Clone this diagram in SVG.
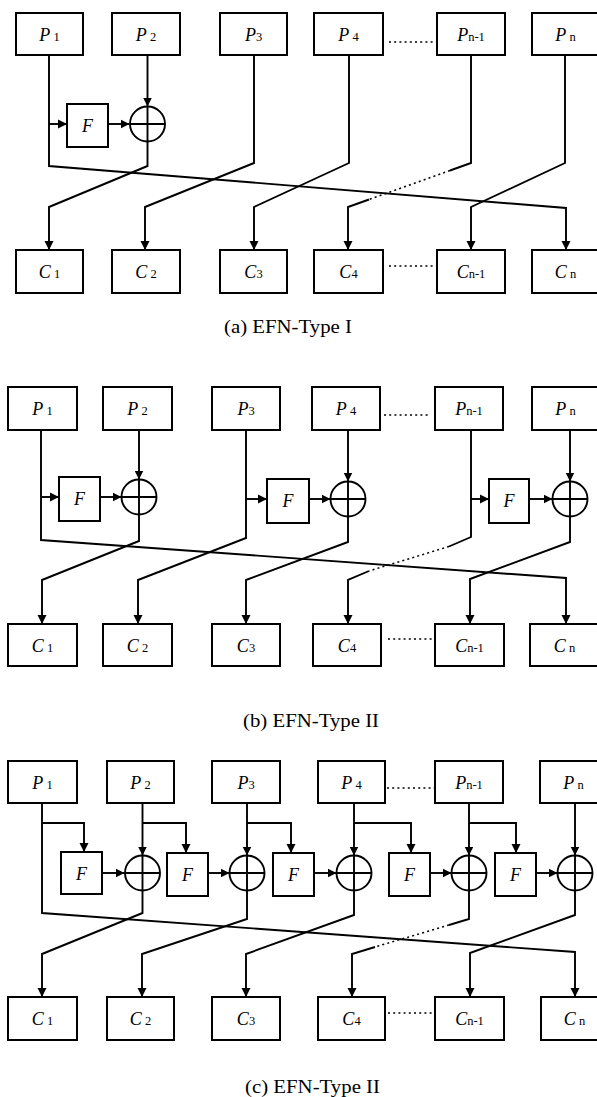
<svg xmlns="http://www.w3.org/2000/svg" width="597" height="1097" viewBox="0 0 597 1097">
<style>
.box{fill:#fff;stroke:#000;stroke-width:2}
.xor{fill:none;stroke:#000;stroke-width:1.9}
.ln{fill:none;stroke:#000;stroke-width:1.9}
.arr{fill:none;stroke:#000;stroke-width:1.9;marker-end:url(#ah)}
.dot{fill:none;stroke:#000;stroke-width:1.5;stroke-dasharray:2 3.2}
text{font-family:"Liberation Serif","Times New Roman",serif;fill:#000}
.lbl{font-size:18px;text-anchor:middle}
.it{font-style:italic}
.sub{font-size:12.5px}
.cap{font-size:19px}
</style>
<defs>
<marker id="ah" viewBox="0 0 10 10" refX="9" refY="5" markerWidth="10" markerHeight="10" markerUnits="userSpaceOnUse" orient="auto">
<path d="M0,0.5 L9,5 L0,9.5 z" fill="#000"/>
</marker>
</defs>

<!-- ===== Panel (a) ===== -->
<g id="connectors-a">
<path class="arr" d="M49,55 V166 L566,208 V250"/>
<path class="arr" d="M49,124 H67"/>
<path class="arr" d="M108,124 H129.5"/>
<path class="arr" d="M147.5,55 V106.5"/>
<path class="arr" d="M147.5,141.5 V166 L49,207 V250"/>
<path class="arr" d="M254,55 V163 L145,207 V250"/>
<path class="arr" d="M349,55 V163 L254,207 V250"/>
<path class="ln" d="M471,55 V163 L450,170.5"/>
<path class="dot" d="M450,170.5 L369,199.5"/>
<path class="arr" d="M369,199.5 L348,207 V250"/>
<path class="arr" d="M565,55 V163 L471,207 V250"/>
<path class="dot" d="M389,42 H435"/>
<path class="dot" d="M389,266 H435"/>
</g>
<g id="a-P1"><rect class="box" x="16" y="13" width="67" height="42"/><text class="lbl" x="49.5" y="41"><tspan class="it">P</tspan><tspan class="sub"> 1</tspan></text></g>
<g id="a-P2"><rect class="box" x="112" y="13" width="68" height="42"/><text class="lbl" x="146" y="41"><tspan class="it">P</tspan><tspan class="sub"> 2</tspan></text></g>
<g id="a-P3"><rect class="box" x="220" y="13" width="67" height="42"/><text class="lbl" x="253.5" y="41"><tspan class="it">P</tspan><tspan class="sub">3</tspan></text></g>
<g id="a-P4"><rect class="box" x="314" y="13" width="69" height="42"/><text class="lbl" x="348.5" y="41"><tspan class="it">P</tspan><tspan class="sub"> 4</tspan></text></g>
<g id="a-Pn-1"><rect class="box" x="437" y="13" width="68" height="42"/><text class="lbl" x="471" y="41"><tspan class="it">P</tspan><tspan class="sub">n-1</tspan></text></g>
<g id="a-Pn"><rect class="box" x="532" y="13" width="67" height="42"/><text class="lbl" x="565.5" y="41"><tspan class="it">P</tspan><tspan class="sub"> n</tspan></text></g>
<g id="a-F"><rect class="box" x="67" y="104" width="41" height="43"/><text class="lbl it" x="87.5" y="132">F</text></g>
<g id="a-X"><circle class="xor" cx="147.5" cy="124" r="17.5"/><path class="xor" d="M130,124 H165 M147.5,106.5 V141.5"/></g>
<g id="a-C1"><rect class="box" x="16" y="250" width="67" height="43"/><text class="lbl" x="49.5" y="278"><tspan class="it">C</tspan><tspan class="sub"> 1</tspan></text></g>
<g id="a-C2"><rect class="box" x="112" y="250" width="68" height="43"/><text class="lbl" x="146" y="278"><tspan class="it">C</tspan><tspan class="sub"> 2</tspan></text></g>
<g id="a-C3"><rect class="box" x="220" y="250" width="67" height="43"/><text class="lbl" x="253.5" y="278"><tspan class="it">C</tspan><tspan class="sub">3</tspan></text></g>
<g id="a-C4"><rect class="box" x="314" y="250" width="69" height="43"/><text class="lbl" x="348.5" y="278"><tspan class="it">C</tspan><tspan class="sub">4</tspan></text></g>
<g id="a-Cn-1"><rect class="box" x="437" y="250" width="68" height="43"/><text class="lbl" x="471" y="278"><tspan class="it">C</tspan><tspan class="sub">n-1</tspan></text></g>
<g id="a-Cn"><rect class="box" x="532" y="250" width="67" height="43"/><text class="lbl" x="565.5" y="278"><tspan class="it">C</tspan><tspan class="sub"> n</tspan></text></g>
<text class="cap" x="224" y="333" textLength="128" lengthAdjust="spacingAndGlyphs">(a) EFN-Type I</text>

<!-- ===== Panel (b) ===== -->
<g id="connectors-b">
<path class="arr" d="M41,430 V540 L566,578 V624"/>
<path class="arr" d="M41,497 H59"/>
<path class="arr" d="M100,497 H121.5"/>
<path class="arr" d="M139,430 V479.5"/>
<path class="arr" d="M139,514.5 V541 L42,580 V624"/>
<path class="arr" d="M246,430 V538 L138,580 V624"/>
<path class="arr" d="M246,499 H267"/>
<path class="arr" d="M309,499 H330.5"/>
<path class="arr" d="M348,430 V481.5"/>
<path class="arr" d="M348,516.5 V542 L246,580 V624"/>
<path class="ln" d="M471,430 V537 L449,546.5"/>
<path class="dot" d="M449,546.5 L369,571"/>
<path class="arr" d="M369,571 L348,580 V624"/>
<path class="arr" d="M471,499 H489"/>
<path class="arr" d="M529,499 H552.5"/>
<path class="arr" d="M570,430 V481.5"/>
<path class="arr" d="M570,516.5 V542 L470,579 V624"/>
<path class="dot" d="M384,415 H430"/>
<path class="dot" d="M388,639 H433"/>
</g>
<g id="b-P1"><rect class="box" x="8" y="387" width="69" height="43"/><text class="lbl" x="42.5" y="415"><tspan class="it">P</tspan><tspan class="sub"> 1</tspan></text></g>
<g id="b-P2"><rect class="box" x="103" y="387" width="69" height="43"/><text class="lbl" x="137.5" y="415"><tspan class="it">P</tspan><tspan class="sub"> 2</tspan></text></g>
<g id="b-P3"><rect class="box" x="212" y="387" width="68" height="43"/><text class="lbl" x="246" y="415"><tspan class="it">P</tspan><tspan class="sub">3</tspan></text></g>
<g id="b-P4"><rect class="box" x="312" y="387" width="68" height="43"/><text class="lbl" x="346" y="415"><tspan class="it">P</tspan><tspan class="sub"> 4</tspan></text></g>
<g id="b-Pn-1"><rect class="box" x="435" y="387" width="68" height="43"/><text class="lbl" x="469" y="415"><tspan class="it">P</tspan><tspan class="sub">n-1</tspan></text></g>
<g id="b-Pn"><rect class="box" x="532" y="387" width="67" height="43"/><text class="lbl" x="565.5" y="415"><tspan class="it">P</tspan><tspan class="sub"> n</tspan></text></g>
<g id="b-F1"><rect class="box" x="59" y="477" width="41" height="44"/><text class="lbl it" x="79.5" y="505">F</text></g>
<g id="b-X1"><circle class="xor" cx="139" cy="497" r="17.5"/><path class="xor" d="M121.5,497 H156.5 M139,479.5 V514.5"/></g>
<g id="b-F2"><rect class="box" x="267" y="479" width="42" height="44"/><text class="lbl it" x="288" y="507">F</text></g>
<g id="b-X2"><circle class="xor" cx="348" cy="499" r="17.5"/><path class="xor" d="M330.5,499 H365.5 M348,481.5 V516.5"/></g>
<g id="b-F3"><rect class="box" x="489" y="479" width="40" height="44"/><text class="lbl it" x="509" y="507">F</text></g>
<g id="b-X3"><circle class="xor" cx="570" cy="499" r="17.5"/><path class="xor" d="M552.5,499 H587.5 M570,481.5 V516.5"/></g>
<g id="b-C1"><rect class="box" x="8" y="624" width="69" height="42"/><text class="lbl" x="42.5" y="652"><tspan class="it">C</tspan><tspan class="sub"> 1</tspan></text></g>
<g id="b-C2"><rect class="box" x="103" y="624" width="69" height="42"/><text class="lbl" x="137.5" y="652"><tspan class="it">C</tspan><tspan class="sub"> 2</tspan></text></g>
<g id="b-C3"><rect class="box" x="212" y="624" width="68" height="42"/><text class="lbl" x="246" y="652"><tspan class="it">C</tspan><tspan class="sub">3</tspan></text></g>
<g id="b-C4"><rect class="box" x="313" y="624" width="68" height="42"/><text class="lbl" x="347" y="652"><tspan class="it">C</tspan><tspan class="sub">4</tspan></text></g>
<g id="b-Cn-1"><rect class="box" x="435" y="624" width="69" height="42"/><text class="lbl" x="469.5" y="652"><tspan class="it">C</tspan><tspan class="sub">n-1</tspan></text></g>
<g id="b-Cn"><rect class="box" x="530" y="624" width="69" height="42"/><text class="lbl" x="564.5" y="652"><tspan class="it">C</tspan><tspan class="sub"> n</tspan></text></g>
<text class="cap" x="243" y="727" textLength="136" lengthAdjust="spacingAndGlyphs">(b) EFN-Type II</text>

<!-- ===== Panel (c) ===== -->
<g id="connectors-c">
<path class="arr" d="M42,803 V913 L575,952 V997"/>
<path class="arr" d="M42,823 H84 V852"/>
<path class="arr" d="M102,873 H124.5"/>
<path class="arr" d="M142.5,803 V855.5"/>
<path class="arr" d="M142.5,823 H186 V853"/>
<path class="arr" d="M208,873 H229.5"/>
<path class="arr" d="M142.5,890.5 V913 L42,954 V997"/>
<path class="arr" d="M247,803 V855.5"/>
<path class="arr" d="M247,823 H291 V853"/>
<path class="arr" d="M314,873 H336.5"/>
<path class="arr" d="M247,890.5 V919 L142,954 V997"/>
<path class="arr" d="M354,803 V855.5"/>
<path class="arr" d="M354,823 H411 V853"/>
<path class="arr" d="M430,873 H451.5"/>
<path class="arr" d="M354,890.5 V915 L246,954 V997"/>
<path class="arr" d="M469,803 V855.5"/>
<path class="arr" d="M469,823 H516 V853"/>
<path class="arr" d="M536,873 H557.5"/>
<path class="ln" d="M469,890.5 V919 L449,925"/>
<path class="dot" d="M449,925 L375,947"/>
<path class="arr" d="M375,947 L352,954 V997"/>
<path class="arr" d="M575,803 V855.5"/>
<path class="arr" d="M575,890.5 V915 L470,953 V997"/>
<path class="dot" d="M387,788 H434"/>
<path class="dot" d="M388,1013 H434"/>
</g>
<g id="c-P1"><rect class="box" x="8" y="761" width="69" height="42"/><text class="lbl" x="42.5" y="789"><tspan class="it">P</tspan><tspan class="sub"> 1</tspan></text></g>
<g id="c-P2"><rect class="box" x="107" y="761" width="67" height="42"/><text class="lbl" x="140.5" y="789"><tspan class="it">P</tspan><tspan class="sub"> 2</tspan></text></g>
<g id="c-P3"><rect class="box" x="212" y="761" width="68" height="42"/><text class="lbl" x="246" y="789"><tspan class="it">P</tspan><tspan class="sub">3</tspan></text></g>
<g id="c-P4"><rect class="box" x="318" y="761" width="67" height="42"/><text class="lbl" x="351.5" y="789"><tspan class="it">P</tspan><tspan class="sub"> 4</tspan></text></g>
<g id="c-Pn-1"><rect class="box" x="435" y="761" width="68" height="42"/><text class="lbl" x="469" y="789"><tspan class="it">P</tspan><tspan class="sub">n-1</tspan></text></g>
<g id="c-Pn"><rect class="box" x="540" y="761" width="67" height="42"/><text class="lbl" x="573.5" y="789"><tspan class="it">P</tspan><tspan class="sub"> n</tspan></text></g>
<g id="c-F1"><rect class="box" x="61" y="852" width="41" height="42"/><text class="lbl it" x="81.5" y="880">F</text></g>
<g id="c-X1"><circle class="xor" cx="142.5" cy="873" r="17.5"/><path class="xor" d="M125,873 H160 M142.5,855.5 V890.5"/></g>
<g id="c-F2"><rect class="box" x="167" y="853" width="41" height="43"/><text class="lbl it" x="187.5" y="881">F</text></g>
<g id="c-X2"><circle class="xor" cx="247" cy="873" r="17.5"/><path class="xor" d="M229.5,873 H264.5 M247,855.5 V890.5"/></g>
<g id="c-F3"><rect class="box" x="273" y="853" width="41" height="43"/><text class="lbl it" x="293.5" y="881">F</text></g>
<g id="c-X3"><circle class="xor" cx="354" cy="873" r="17.5"/><path class="xor" d="M336.5,873 H371.5 M354,855.5 V890.5"/></g>
<g id="c-F4"><rect class="box" x="389" y="853" width="41" height="43"/><text class="lbl it" x="409.5" y="881">F</text></g>
<g id="c-X4"><circle class="xor" cx="469" cy="873" r="17.5"/><path class="xor" d="M451.5,873 H486.5 M469,855.5 V890.5"/></g>
<g id="c-F5"><rect class="box" x="495" y="853" width="41" height="43"/><text class="lbl it" x="515.5" y="881">F</text></g>
<g id="c-X5"><circle class="xor" cx="575" cy="873" r="17.5"/><path class="xor" d="M557.5,873 H592.5 M575,855.5 V890.5"/></g>
<g id="c-C1"><rect class="box" x="8" y="997" width="69" height="43"/><text class="lbl" x="42.5" y="1025"><tspan class="it">C</tspan><tspan class="sub"> 1</tspan></text></g>
<g id="c-C2"><rect class="box" x="107" y="997" width="67" height="43"/><text class="lbl" x="140.5" y="1025"><tspan class="it">C</tspan><tspan class="sub"> 2</tspan></text></g>
<g id="c-C3"><rect class="box" x="212" y="997" width="68" height="43"/><text class="lbl" x="246" y="1025"><tspan class="it">C</tspan><tspan class="sub">3</tspan></text></g>
<g id="c-C4"><rect class="box" x="318" y="997" width="67" height="43"/><text class="lbl" x="351.5" y="1025"><tspan class="it">C</tspan><tspan class="sub">4</tspan></text></g>
<g id="c-Cn-1"><rect class="box" x="435" y="997" width="69" height="43"/><text class="lbl" x="469.5" y="1025"><tspan class="it">C</tspan><tspan class="sub">n-1</tspan></text></g>
<g id="c-Cn"><rect class="box" x="541" y="997" width="67" height="43"/><text class="lbl" x="574.5" y="1025"><tspan class="it">C</tspan><tspan class="sub"> n</tspan></text></g>
<text class="cap" x="245" y="1093" textLength="135" lengthAdjust="spacingAndGlyphs">(c) EFN-Type II</text>
</svg>
